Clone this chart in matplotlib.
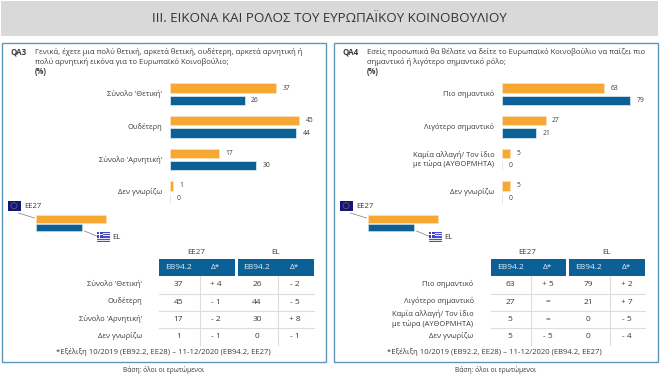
import matplotlib
matplotlib.use('Agg')
import matplotlib.pyplot as plt
from matplotlib.patches import Rectangle

plt.rcParams['font.family'] = ['Open Sans', 'DejaVu Sans']

W, H = 660, 384
ORANGE = '#f7a833'
BLUE = '#0b6196'
BORDER = '#5f97bb'
GREY = '#d9d9d9'
TEXT = '#3a3a3a'
EDGE = '#d5e5f0'

title = 'III. ΕΙΚΟΝΑ ΚΑΙ ΡΟΛΟΣ ΤΟΥ ΕΥΡΩΠΑΪΚΟΥ ΚΟΙΝΟΒΟΥΛΙΟΥ'
footnote = '*Εξέλιξη 10/2019 (EB92.2, EE28) – 11-12/2020 (EB94.2, EE27)'
base = 'Βάση: όλοι οι ερωτώμενοι'

qa3_code = 'QA3'
qa3_text = ('Γενικά, έχετε μια πολύ θετική, αρκετά θετική, ουδέτερη, αρκετά αρνητική ή\n'
            'πολύ αρνητική εικόνα για το Ευρωπαϊκό Κοινοβούλιο;')
qa3_cats = ["Σύνολο 'Θετική'", 'Ουδέτερη', "Σύνολο 'Αρνητική'", 'Δεν γνωρίζω']
qa3_eu = [37, 45, 17, 1]
qa3_el = [26, 44, 30, 0]
qa3_eu_delta = ['+ 4', '- 1', '- 2', '- 1']
qa3_el_delta = ['- 2', '- 5', '+ 8', '- 1']

qa4_code = 'QA4'
qa4_text = ('Εσείς προσωπικά θα θέλατε να δείτε το Ευρωπαϊκό Κοινοβούλιο να παίζει πιο\n'
            'σημαντικό ή λιγότερο σημαντικό ρόλο;')
qa4_cats = ['Πιο σημαντικό', 'Λιγότερο σημαντικό',
            'Καμία αλλαγή/ Τον ίδιο\nμε τώρα (ΑΥΘΟΡΜΗΤΑ)', 'Δεν γνωρίζω']
qa4_eu = [63, 27, 5, 5]
qa4_el = [79, 21, 0, 0]
qa4_eu_delta = ['+ 5', '=', '=', '- 5']
qa4_el_delta = ['+ 2', '+ 7', '- 5', '- 4']

fig = plt.figure(figsize=(W / 100, H / 100), dpi=100, facecolor='white')

# pixel canvas for all the page furniture
bg = fig.add_axes([0, 0, 1, 1])
bg.set_xlim(0, W)
bg.set_ylim(H, 0)
bg.axis('off')


def eu_flag(x, y):
    bg.add_patch(Rectangle((x, y), 13, 9.5, fc='#14147a', ec='none'))
    bg.add_patch(plt.Circle((x + 6.5, y + 4.75), 3, fc='none', ec='#6a6a50', lw=0.5))


def el_flag(x, y):
    bg.add_patch(Rectangle((x, y), 13, 10, fc='#4a4fd0', ec='none'))
    for i in range(1, 9, 2):
        bg.add_patch(Rectangle((x, y + i * 10 / 9), 13, 10 / 9, fc='#e6e6f5', ec='none'))
    bg.add_patch(Rectangle((x, y), 5.5, 5.5, fc='#3a3fc8', ec='none'))
    bg.add_patch(Rectangle((x + 2.2, y), 1.1, 5.5, fc='white', ec='none'))
    bg.add_patch(Rectangle((x, y + 2.2), 5.5, 1.1, fc='white', ec='none'))


def draw_panel(ox, code, text, cats, eu, el, eu_delta, el_delta, x0, scale, fx):
    # ox = panel left edge, x0 = bar baseline in px, scale = px per percent
    bg.add_patch(Rectangle((ox, 42.5), 324, 319, fc='white', ec=BORDER, lw=1))
    bg.text(ox + 9, 51.5, code, fontsize=5.8, fontweight='bold', color=TEXT, va='center')
    bg.text(ox + 33.5, 56.8, text, fontsize=5.5, color=TEXT, va='center', linespacing=1.28)
    bg.text(ox + 33.5, 71.8, '(%)', fontsize=5.5, fontweight='bold', color=TEXT, va='center')

    # bars
    ax = fig.add_axes([x0 / W, 1 - 208.4 / H, 145 / W, 130.4 / H])
    ax.set_xlim(0, 145 / scale)
    ax.set_ylim(len(cats), 0)
    ax.axis('off')
    ax.patch.set_alpha(0)
    pos = [i + 0.5 for i in range(len(cats))]
    ax.barh([p - 0.19 for p in pos], eu, height=0.29, color=ORANGE, edgecolor='#fbe3bd', linewidth=0.5)
    ax.barh([p + 0.19 for p in pos], el, height=0.29, color=BLUE, edgecolor=EDGE, linewidth=0.6)
    for p, a, b in zip(pos, eu, el):
        ax.annotate(str(a), (a, p - 0.19), xytext=(4.5, 0), textcoords='offset points',
                    fontsize=4.9, color=TEXT, va='center')
        ax.annotate(str(b), (b, p + 0.19), xytext=(4.5, 0), textcoords='offset points',
                    fontsize=4.9, color=TEXT, va='center')
    for p, c in zip(pos, cats):
        ax.annotate(c, (0, p), xytext=(-5.5, 0), textcoords='offset points', ha='right',
                    va='center', fontsize=5.4, color=TEXT, linespacing=1.25, annotation_clip=False)

    # legend
    lx = ox + 34
    eu_flag(ox + 6, 201)
    bg.text(ox + 22.5, 206, 'EE27', fontsize=5.6, color=TEXT, va='center')
    bg.plot([ox + 17, ox + 33], [213, 218], color='#777777', lw=0.5)
    bg.add_patch(Rectangle((lx, 215), 70, 7.5, fc=ORANGE, ec='#fbe3bd', lw=0.4))
    bg.add_patch(Rectangle((lx, 223.5), 46.5, 7, fc=BLUE, ec=EDGE, lw=0.4))
    bg.plot([ox + 83, ox + 95], [231, 236], color='#777777', lw=0.5)
    el_flag(ox + 95.5, 232)
    bg.text(ox + 111, 237.5, 'EL', fontsize=5.6, color=TEXT, va='center')

    # table
    tx = fx
    centers = [tx + 19.5, tx + 57, tx + 98, tx + 136]
    bg.text(tx + 37, 253, 'EE27', fontsize=5.8, color=TEXT, ha='center', va='center')
    bg.text(tx + 116, 253, 'EL', fontsize=5.8, color=TEXT, ha='center', va='center')
    bg.add_patch(Rectangle((tx, 259), 75.5, 17, fc=BLUE, ec='none'))
    bg.add_patch(Rectangle((tx + 78.5, 259), 76, 17, fc=BLUE, ec='none'))
    for c, lab in zip(centers, ['EB94.2', 'Δ*', 'EB94.2', 'Δ*']):
        bg.text(c, 267.5, lab, fontsize=6, color='#e8eef3', ha='center', va='center')
    for ly in [293.5, 310.5, 327.5]:
        bg.plot([tx, tx + 154.5], [ly, ly], color='#dddddd', lw=0.8)
    for vx in [tx + 40.5, tx + 119]:
        bg.plot([vx, vx], [276, 345], color='#dddddd', lw=0.8)
    rows = [285, 302, 319.5, 336.5]
    for i, y in enumerate(rows):
        vals = [eu[i], eu_delta[i], el[i], el_delta[i]]
        for c, v in zip(centers, vals):
            bg.text(c, y, str(v), fontsize=6, color=TEXT, ha='center', va='center')
        bg.text(tx - 17, y - 0.7, cats[i], fontsize=5.4, color=TEXT, ha='right', va='center',
                linespacing=1.25)
    bg.text(tx + 4, 351.5, footnote, fontsize=5.5, color=TEXT, ha='center', va='center')
    bg.text(tx + 5, 370, base, fontsize=4.8, color=TEXT, ha='center', va='center')


# header band
bg.add_patch(Rectangle((1, 0.5), 656.5, 35.5, fc=GREY, ec='none'))
bg.text(329, 18.5, title, fontsize=9.6, color='#333333', ha='center', va='center')

draw_panel(1.5, qa3_code, qa3_text, qa3_cats, qa3_eu, qa3_el, qa3_eu_delta, qa3_el_delta, 170, 2.87, 159)
draw_panel(333.5, qa4_code, qa4_text, qa4_cats, qa4_eu, qa4_el, qa4_eu_delta, qa4_el_delta, 502, 1.62, 490.5)

fig.savefig('out.png', dpi=100)
